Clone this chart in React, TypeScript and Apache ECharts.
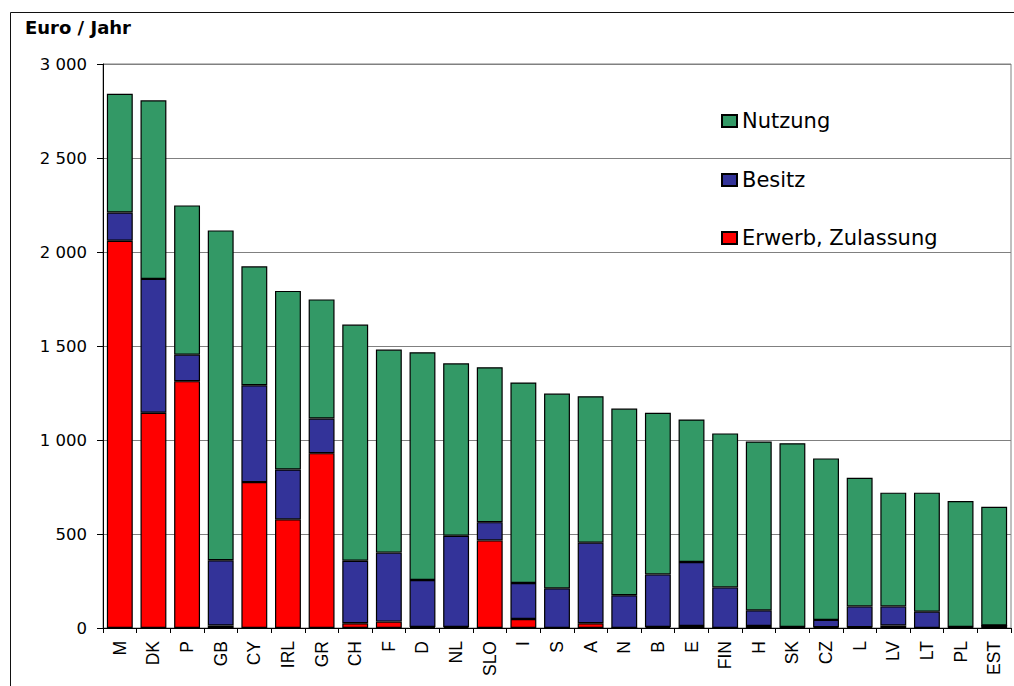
import React, { useEffect, useRef } from "react";
import * as echarts from "echarts";

const categories = ["M", "DK", "P", "GB", "CY", "IRL", "GR", "CH", "F", "D", "NL", "SLO", "I", "S", "A", "N", "B", "E", "FIN", "H", "SK", "CZ", "L", "LV", "LT", "PL", "EST"];
const erwerb = [2060, 1145, 1313, 13, 776, 578, 930, 25, 34, 5, 5, 466, 48, 0, 25, 0, 5, 11, 0, 11, 2, 4, 4, 13, 0, 2, 13];
const besitz = [150, 712, 141, 347, 515, 265, 184, 333, 367, 250, 486, 97, 191, 211, 429, 174, 280, 340, 216, 83, 3, 39, 111, 102, 87, 3, 0];
const nutzung = [632, 950, 794, 1755, 633, 950, 634, 1256, 1080, 1212, 917, 824, 1067, 1036, 779, 993, 860, 758, 819, 898, 978, 859, 684, 605, 633, 670, 632];

const seriesNames = ["Erwerb, Zulassung", "Besitz", "Nutzung"];
const seriesColors = ["#FF0000", "#333399", "#339966"];
const legendOrder = ["Nutzung", "Besitz", "Erwerb, Zulassung"];
const legendCenters = [121, 180, 238];

const fmt = (v: number) => {
  if (v >= 1000) {
    return `${Math.floor(v / 1000)} ${String(v % 1000).padStart(3, "0")}`;
  }
  return String(v);
};

export default function App() {
  const ref = useRef<HTMLDivElement>(null);
  useEffect(() => {
    if (!ref.current) return;
    const chart = echarts.init(ref.current, undefined, { renderer: "svg" });
    const values = [erwerb, besitz, nutzung];
    chart.setOption({
      animation: false,
      backgroundColor: "#ffffff",
      title: {
        text: "Euro / Jahr",
        left: 25,
        top: 18,
        padding: 0,
        textStyle: { fontFamily: "DejaVu Sans", fontWeight: "bold", fontSize: 18, color: "#000" },
      },
      graphic: [
        {
          type: "rect",
          shape: { x: 10.5, y: 12.5, width: 1010, height: 700 },
          style: { fill: "none", stroke: "#111", lineWidth: 1 },
          silent: true,
        },
      ],
      legend: legendOrder.map((name, i) => ({
        data: [name],
        orient: "vertical",
        left: 721,
        top: legendCenters[i] - 10.5,
        padding: 0,
        itemWidth: 15,
        itemHeight: 12,
        icon: "rect",
        selectedMode: false,
        textStyle: { fontFamily: "DejaVu Sans", fontSize: 21, color: "#000" },
      })),
      grid: {
        left: 103,
        right: 3,
        top: 64,
        bottom: 58,
        show: true,
        borderColor: "#808080",
        borderWidth: 1,
        backgroundColor: "transparent",
      },
      xAxis: {
        type: "category",
        data: categories,
        axisLine: { show: true, lineStyle: { color: "#000", width: 1 } },
        axisTick: { show: true, length: 5, lineStyle: { color: "#000" } },
        axisLabel: {
          rotate: 90,
          interval: 0,
          margin: 13,
          fontFamily: "Liberation Sans",
          fontSize: 17.5,
          color: "#000",
        },
      },
      yAxis: {
        type: "value",
        min: 0,
        max: 3000,
        interval: 500,
        axisLine: { show: true, lineStyle: { color: "#000", width: 1 } },
        axisTick: { show: true, length: 6, lineStyle: { color: "#000" } },
        splitLine: { show: true, lineStyle: { color: "#808080", width: 1 } },
        axisLabel: {
          margin: 16,
          fontFamily: "DejaVu Sans",
          fontSize: 16.5,
          color: "#000",
          formatter: fmt,
        },
      },
      series: seriesNames.map((name, i) => ({
        name,
        type: "bar",
        stack: "total",
        data: values[i],
        barCategoryGap: "23%",
        itemStyle: { color: seriesColors[i], borderColor: "#000", borderWidth: 1.2 },
        emphasis: { disabled: true },
      })),
    });
    return () => chart.dispose();
  }, []);
  return (
    <div
      ref={ref}
      style={{ position: "absolute", left: 0, top: 0, width: 1014, height: 686 }}
    />
  );
}
